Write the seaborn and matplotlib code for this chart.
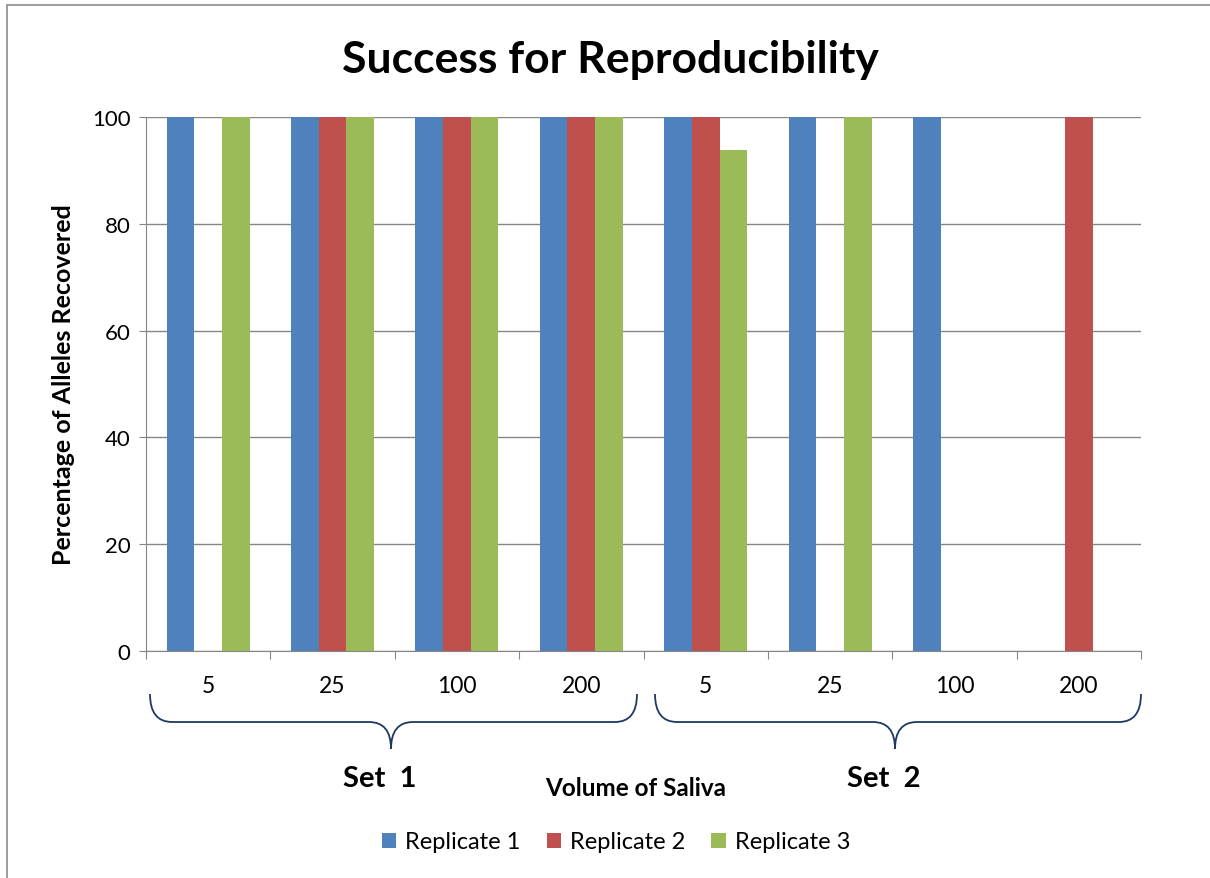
import numpy as np
import pandas as pd
import seaborn as sns
import matplotlib.pyplot as plt
from matplotlib.path import Path
from matplotlib.patches import PathPatch, Rectangle

# data
volumes = ['5', '25', '100', '200', '5', '25', '100', '200']
sets = ['Set  1', 'Set  2']
replicates = ['Replicate 1', 'Replicate 2', 'Replicate 3']
rep1 = [100, 100, 100, 100, 100, 100, 100, 0]
rep2 = [0, 100, 100, 100, 100, 0, 0, 100]
rep3 = [100, 100, 100, 100, 93.75, 100, 0, 0]
colors = ['#4F81BD', '#C0504D', '#9BBB59']

rows = []
for rep, vals in zip(replicates, [rep1, rep2, rep3]):
    for i, v in enumerate(vals):
        rows.append({'pos': i, 'rep': rep, 'value': v})
df = pd.DataFrame(rows)

sns.set_style('white')
plt.rcParams['font.family'] = ['Lato', 'DejaVu Sans']
plt.rcParams['text.color'] = 'black'
plt.rcParams['xtick.color'] = 'black'
plt.rcParams['ytick.color'] = 'black'
plt.rcParams['axes.labelcolor'] = 'black'

W, H = 1210, 879
fig = plt.figure(figsize=(W / 100, H / 100), dpi=100)
ax = fig.add_axes([146 / W, 1 - 652 / H, (1141 - 146) / W, (652 - 118) / H])

sns.barplot(data=df, x='pos', y='value', hue='rep', palette=colors,
            width=0.667, saturation=1, ax=ax, legend=True, linewidth=0)

ax.set_xlim(-0.5, 7.5)
ax.set_ylim(0, 100)
ax.set_yticks(np.arange(0, 101, 20))
ax.yaxis.grid(True, color='#868686', linewidth=1)
ax.set_axisbelow(True)
ax.tick_params(axis='y', labelsize=16, length=5, color='#868686', left=True, pad=6)

# tick marks at category boundaries, labels in the middle
ax.set_xticks(np.arange(-0.5, 8, 1))
ax.set_xticklabels([])
ax.set_xticks(np.arange(8), minor=True)
ax.set_xticklabels(volumes, minor=True, fontsize=16.5)
ax.tick_params(axis='x', which='major', length=6, color='#868686', bottom=True, direction='out')
ax.tick_params(axis='x', which='minor', length=0, pad=17)

for side in ['top', 'right']:
    ax.spines[side].set_visible(False)
for side in ['left', 'bottom']:
    ax.spines[side].set_color('#868686')

ax.set_xlabel('')
ax.set_ylabel('Percentage of Alleles Recovered', fontsize=18, fontweight='bold', labelpad=12)

fig.text(610 / W, 1 - 60 / H, 'Success for Reproducibility', ha='center', va='center',
         fontsize=32, fontweight='bold')
fig.text(636 / W, 1 - 789 / H, 'Volume of Saliva', ha='center', va='center',
         fontsize=17.5, fontweight='bold')


def brace(x0, x1, xc, y0=695, ym=723, yt=750, r=22):
    pts = [(x0, y0), (x0, ym), (x0 + r, ym),
           (xc - r, ym), (xc, ym), (xc, yt),
           (xc, ym), (xc + r, ym),
           (x1 - r, ym), (x1, ym), (x1, y0)]
    codes = [Path.MOVETO, Path.CURVE3, Path.CURVE3,
             Path.LINETO, Path.CURVE3, Path.CURVE3,
             Path.CURVE3, Path.CURVE3,
             Path.LINETO, Path.CURVE3, Path.CURVE3]
    pts = [(x / W, 1 - y / H) for x, y in pts]
    fig.add_artist(PathPatch(Path(pts, codes), transform=fig.transFigure,
                             facecolor='none', edgecolor='#1F3864', linewidth=1.3))


brace(150, 637, 391)
brace(655, 1141, 895)
fig.text(380 / W, 1 - 779 / H, sets[0], ha='center', va='center', fontsize=21, fontweight='bold')
fig.text(884 / W, 1 - 779 / H, sets[1], ha='center', va='center', fontsize=21, fontweight='bold')

ax.legend(loc='center', bbox_to_anchor=(616 / W, 1 - 843 / H), bbox_transform=fig.transFigure,
          ncol=3, frameon=False, fontsize=17, handlelength=0.6, handleheight=0.6,
          handletextpad=0.4, columnspacing=1.1)

fig.add_artist(Rectangle((7 / W, -0.01), 1.2, 1 - 6 / H + 0.01, transform=fig.transFigure,
                         facecolor='none', edgecolor='#8C8C8C', linewidth=1.2))

fig.savefig('out.png', dpi=100)
